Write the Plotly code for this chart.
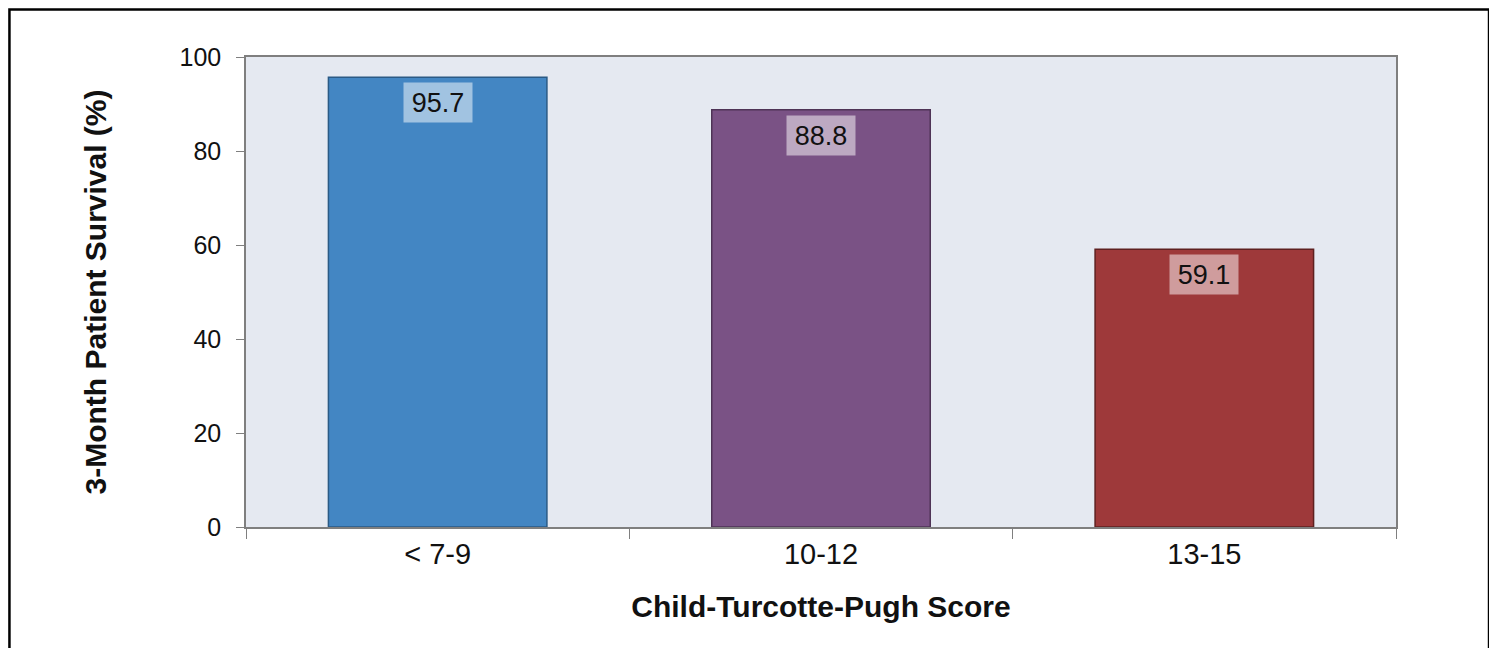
import plotly.graph_objects as go

categories = ["< 7-9", "10-12", "13-15"]
survival = [95.7, 88.8, 59.1]
labels = ["95.7", "88.8", "59.1"]
bar_colors = ["#4386C3", "#7A5285", "#9E393A"]
line_colors = ["#2B5A85", "#4E3356", "#5E2020"]
y_ticks = [0, 20, 40, 60, 80, 100]

FONT = "Liberation Sans, Arial, sans-serif"

fig = go.Figure()
fig.add_trace(go.Bar(
    x=categories, y=survival,
    marker=dict(color=bar_colors, line=dict(color=line_colors, width=1.5)),
    width=0.57, hoverinfo="skip",
))

for c, v, t in zip(categories, survival, labels):
    fig.add_annotation(
        x=c, y=v, xref="x", yref="y", text=t, showarrow=False,
        yanchor="top", yshift=-5, width=60, height=31,
        font=dict(family=FONT, size=27, color="#111111"),
        bgcolor="rgba(255,255,255,0.5)", borderpad=4,
    )

# outer frame
fig.add_shape(type="rect", xref="paper", yref="paper",
              x0=-0.2057, x1=1.0809, y0=-0.3, y1=1.1011,
              line=dict(color="#000000", width=2.5), layer="below")

fig.update_layout(
    width=1497, height=648,
    margin=dict(l=238, r=109, t=49, b=129),
    paper_bgcolor="white", plot_bgcolor="#E5E9F1",
    showlegend=False,
    font=dict(family=FONT, color="#111111"),
    xaxis=dict(
        type="category", automargin=False,
        showline=True, linecolor="#7F7F7F", linewidth=1.5, mirror=True,
        ticks="outside", tickson="boundaries", ticklen=10, tickcolor="#7F7F7F",
        tickfont=dict(size=29, family=FONT), showgrid=False,
        title=dict(text="<b>Child-Turcotte-Pugh Score</b>", font=dict(size=30, family=FONT), standoff=27),
    ),
    yaxis=dict(
        range=[0, 100], tickvals=y_ticks, automargin=False,
        showline=True, linecolor="#7F7F7F", linewidth=1.5, mirror=True,
        ticks="outside", ticklen=8, tickcolor="#7F7F7F", ticklabelstandoff=10,
        tickfont=dict(size=25, family=FONT), showgrid=False, zeroline=False,
        title=dict(text="<b>3-Month Patient Survival (%)</b>", font=dict(size=30, family=FONT), standoff=64),
    ),
)

fig.write_html("out.html")
